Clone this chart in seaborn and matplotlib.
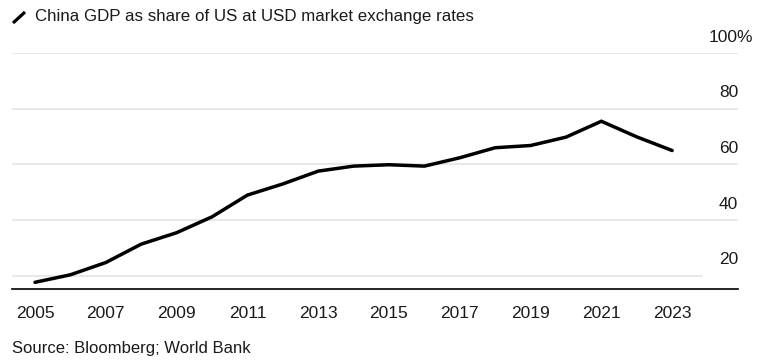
import numpy as np
import pandas as pd
import matplotlib
matplotlib.use('Agg')
import matplotlib.pyplot as plt
import matplotlib.transforms as mtransforms
import seaborn as sns

years = [2005, 2006, 2007, 2008, 2009, 2010, 2011, 2012, 2013, 2014,
         2015, 2016, 2017, 2018, 2019, 2020, 2021, 2022, 2023]
share = [17.7, 20.4, 24.8, 31.4, 35.5, 41.2, 49.0, 53.0, 57.6, 59.4,
         59.9, 59.4, 62.4, 66.0, 66.8, 69.8, 75.5, 69.9, 65.0]
y_ticks = [20, 40, 60, 80, 100]
x_ticks = list(range(2005, 2024, 2))

title = 'China GDP as share of US at USD market exchange rates'
source = 'Source: Bloomberg; World Bank'

sns.set_style('white')
plt.rcParams['font.family'] = ['Liberation Sans', 'DejaVu Sans']
txt_color = '#1a1a1a'
fs = 12.5

W, H = 766, 363
fig = plt.figure(figsize=(W / 100, H / 100), dpi=100)
# axes box in pixels: x 12..738, y 53..289
ax = fig.add_axes([12 / W, 1 - 289 / H, 726 / W, (289 - 53) / H])

df = pd.DataFrame({'year': years, 'share': share})
sns.lineplot(data=df, x='year', y='share', ax=ax, color='black', lw=2.5,
             solid_joinstyle='miter', zorder=3)

ax.set_xlim(2004.35, 2024.86)
ax.set_ylim(15.3, 100)

# gridlines (the lowest one is shorter)
for v in y_ticks:
    xmax = (702 - 12) / 726 if v == 20 else 1.0
    ax.axhline(v, xmin=0, xmax=xmax, color='#e1e1e1', lw=1.1, zorder=0)

# y labels sit above the gridlines at the right edge
trans = mtransforms.blended_transform_factory(ax.transAxes, ax.transData)
for v in y_ticks:
    if v == 100:
        # "100" right-aligned with the others, "%" hangs past the edge
        ax.annotate('100%', xy=(1, v), xycoords=trans,
                    xytext=(-3 * 0.556 * fs, 11.5),
                    textcoords='offset points', ha='left', va='center',
                    fontsize=fs, color=txt_color)
    else:
        ax.annotate(str(v), xy=(1, v), xycoords=trans, xytext=(0, 11.5),
                    textcoords='offset points', ha='right', va='center',
                    fontsize=fs, color=txt_color)

ax.set_yticks([])
ax.set_xticks(x_ticks)
ax.set_xticklabels([str(x) for x in x_ticks], fontsize=fs, color=txt_color)
ax.tick_params(axis='x', direction='out', length=4.5, width=1, color='black', pad=7.5)
ax.set_xlabel('')
ax.set_ylabel('')
for s in ['top', 'left', 'right']:
    ax.spines[s].set_visible(False)
ax.spines['bottom'].set_color('black')
ax.spines['bottom'].set_linewidth(1.2)

# title with small line icon
fig.add_artist(plt.Line2D([13 / W, 25 / W], [1 - 23 / H, 1 - 12 / H],
                          transform=fig.transFigure, color='black', lw=2.3,
                          solid_capstyle='butt'))
fig.text(35 / W, 1 - 16.5 / H, title, ha='left', va='center', fontsize=12.2,
         color=txt_color)
fig.text(12 / W, 1 - 348 / H, source, ha='left', va='center', fontsize=12,
         color=txt_color)

fig.savefig('out.png', dpi=100)
